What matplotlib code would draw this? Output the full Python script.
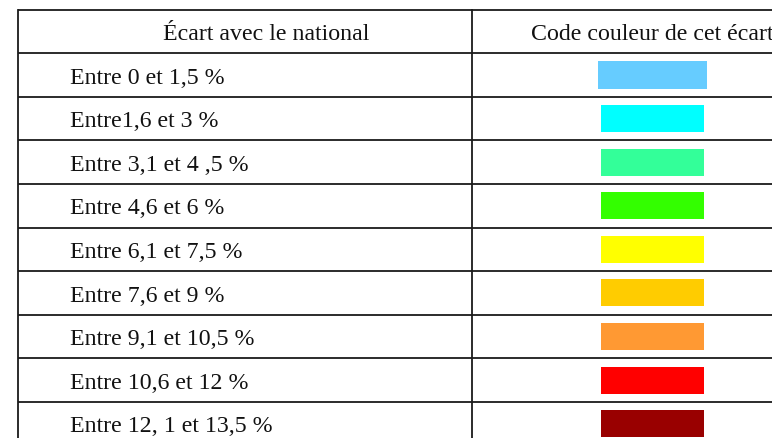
import matplotlib.pyplot as plt

plt.rcParams['font.family'] = ['Liberation Serif', 'DejaVu Serif']

headers = ["Écart avec le national", "Code couleur de cet écart"]
labels = ["Entre 0 et 1,5 %", "Entre1,6 et 3 %", "Entre 3,1 et 4 ,5 %",
          "Entre 4,6 et 6 %", "Entre 6,1 et 7,5 %", "Entre 7,6 et 9 %",
          "Entre 9,1 et 10,5 %", "Entre 10,6 et 12 %", "Entre 12, 1 et 13,5 %"]
colors = ["#66CCFF", "#00FFFF", "#33FF99", "#33FF00", "#FFFF00",
          "#FFCC00", "#FF9933", "#FF0000", "#990000"]

W, H = 772, 439
fig = plt.figure(figsize=(W / 100, H / 100), dpi=100)
ax = fig.add_axes([0, 0, 1, 1])
ax.set_xlim(0, W)
ax.set_ylim(H, 0)
ax.axis('off')

# table layout (pixels)
left, mid, right = 17.5, 471.5, 800
top, rh = 10.5, 43.6
n = len(labels)
lc = '#1a1a1a'

# horizontal rules
for i in range(n + 2):
    y = top + i * rh
    ax.plot([left, right], [y, y], color=lc, lw=1.3, solid_capstyle='butt')
# vertical rules
bottom = top + (n + 1) * rh
ax.plot([left, left], [top, bottom], color=lc, lw=1.3)
ax.plot([mid, mid], [top, bottom], color=lc, lw=1.3)

fs = 17.2
base = 29.5  # baseline offset from row top
ax.text(266.5, top + base, headers[0], ha='center', va='baseline', fontsize=fs, color='#111111')
ax.text(531, top + base, headers[1], ha='left', va='baseline', fontsize=fs, color='#111111')

row_tops = [top + (i + 1) * rh for i in range(n)]
for rt, lab in zip(row_tops, labels):
    ax.text(70, rt + base, lab, ha='left', va='baseline', fontsize=fs, color='#111111')

# colour swatches
widths = [109] + [103] * (n - 1)
heights = [28] + [27] * (n - 1)
centers = [652.5] * n
ax.barh([rt + rh / 2 for rt in row_tops], widths, height=heights,
        left=[c - w / 2 for c, w in zip(centers, widths)], color=colors, linewidth=0)

fig.savefig('out.png', dpi=100)
